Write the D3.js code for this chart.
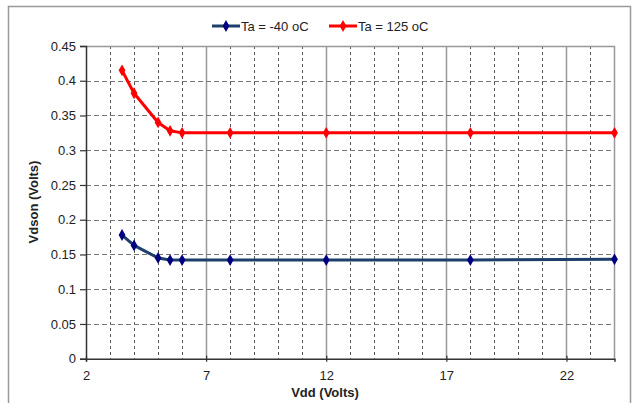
<!DOCTYPE html>
<html><head><meta charset="utf-8">
<script src="https://cdn.jsdelivr.net/npm/d3@7"></script>
<style>body{margin:0;background:#fff}svg{display:block;font-family:Arial,"Liberation Sans",sans-serif}</style>
</head><body><svg id="c" width="633" height="403"></svg>
<script>
const vdd = [3.5, 4, 5, 5.5, 6, 8, 12, 18, 24];
const vdsonCold = [0.178, 0.163, 0.145, 0.142, 0.142, 0.142, 0.142, 0.142, 0.143];
const vdsonHot = [0.415, 0.382, 0.340, 0.328, 0.325, 0.325, 0.325, 0.325, 0.325];
const seriesNames = ["Ta = -40 oC", "Ta = 125 oC"];
const xTicks = [2, 7, 12, 17, 22];
const yTicks = [0, 0.05, 0.1, 0.15, 0.2, 0.25, 0.3, 0.35, 0.4, 0.45];

const svg = d3.select("#c");
const L = 86, R = 614.5, T = 46, B = 358.7;
const x = d3.scaleLinear().domain([2, 24]).range([L, R]);
const y = d3.scaleLinear().domain([0, 0.45]).range([B, T]);

// outer frame
svg.append("path").attr("d", `M8.5,410 V6.5 H630.5 V410`).attr("fill", "none").attr("stroke", "#9a9a9a").attr("stroke-width", 1.5);

// minor vertical gridlines
const minor = d3.range(3, 24).filter(v => (v - 2) % 5 !== 0);
svg.append("g").selectAll("line").data(minor).join("line")
  .attr("x1", d => Math.round(x(d)) + 0.5).attr("x2", d => Math.round(x(d)) + 0.5)
  .attr("y1", T).attr("y2", B)
  .attr("stroke", "#555").attr("stroke-width", 1).attr("stroke-dasharray", "3,3");
// major vertical gridlines
svg.append("g").selectAll("line").data([7, 12, 17, 22]).join("line")
  .attr("x1", d => Math.round(x(d)) + 0.5).attr("x2", d => Math.round(x(d)) + 0.5)
  .attr("y1", T).attr("y2", B)
  .attr("stroke", "#999").attr("stroke-width", 1.5);
// horizontal gridlines
svg.append("g").selectAll("line").data(yTicks.slice(1, -1)).join("line")
  .attr("x1", L).attr("x2", R)
  .attr("y1", d => Math.round(y(d)) + 0.5).attr("y2", d => Math.round(y(d)) + 0.5)
  .attr("stroke", "#777").attr("stroke-width", 1).attr("stroke-dasharray", "5,3");
// plot top/right border
svg.append("path").attr("d", `M${L},${T + 0.5} H${R} V${B}`).attr("fill", "none").attr("stroke", "#999").attr("stroke-width", 1.5);

// axes
const yAxis = d3.axisLeft(y).tickValues(yTicks).tickFormat(d => d3.format("~g")(d)).tickSize(6).tickPadding(4);
const gy = svg.append("g").attr("transform", `translate(${L},0)`).call(yAxis);
const xAxis = d3.axisBottom(x).tickValues(xTicks).tickFormat(d3.format("d")).tickSize(3).tickPadding(9);
const gx = svg.append("g").attr("transform", `translate(0,${B})`).call(xAxis);
[gx, gy].forEach(g => {
  g.select(".domain").attr("stroke", "#333").attr("stroke-width", 1.5);
  g.selectAll(".tick line").attr("stroke", "#333").attr("stroke-width", 1.2);
  g.selectAll("text").attr("font-size", 13).attr("fill", "#222").attr("font-family", "Arial, 'Liberation Sans', sans-serif");
});
gx.selectAll(".tick line").attr("y1", -3);

// axis titles
svg.append("text").attr("x", 325).attr("y", 397).attr("text-anchor", "middle")
  .attr("font-size", 13).attr("font-weight", "bold").attr("fill", "#222").text("Vdd (Volts)");
svg.append("text").attr("transform", "translate(38,202) rotate(-90)").attr("text-anchor", "middle")
  .attr("font-size", 13).attr("font-weight", "bold").attr("fill", "#222").text("Vdson (Volts)");

// series
const series = [
  {name: seriesNames[0], vals: vdsonCold, line: "#1e3f6b", mark: "#000080"},
  {name: seriesNames[1], vals: vdsonHot, line: "#ff0000", mark: "#ff0000"}
];
const diamond = d3.symbol().type(d3.symbolDiamond).size(40);
const lineGen = d3.line().x(d => x(d[0])).y(d => y(d[1]));
series.forEach(s => {
  const pts = vdd.map((v, i) => [v, s.vals[i]]);
  svg.append("path").datum(pts).attr("d", lineGen).attr("fill", "none")
    .attr("stroke", s.line).attr("stroke-width", 3).attr("stroke-linejoin", "round");
  svg.append("g").selectAll("path").data(pts).join("path")
    .attr("d", diamond).attr("transform", d => `translate(${x(d[0])},${y(d[1])})`)
    .attr("fill", s.mark);
});

// legend
const legX = [212, 329];
series.forEach((s, i) => {
  const g = svg.append("g").attr("transform", `translate(${legX[i]},26)`);
  g.append("line").attr("x1", 0).attr("x2", 28).attr("stroke", s.line).attr("stroke-width", 3);
  g.append("path").attr("d", diamond).attr("transform", "translate(14,0)").attr("fill", s.mark);
  g.append("text").attr("x", 29).attr("y", 4.5).attr("font-size", 13).attr("fill", "#222").text(s.name);
});
</script></body></html>
